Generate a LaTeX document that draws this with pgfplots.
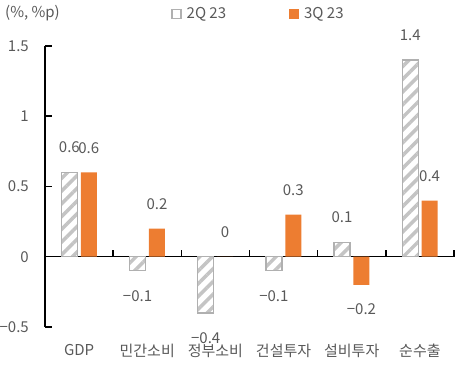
\documentclass[border=0pt]{standalone}
\usepackage{fontspec}
\setmainfont{Noto Sans CJK KR}
\usepackage{pgfplots}
\pgfplotsset{compat=1.18}
\usetikzlibrary{patterns.meta}
\definecolor{orng}{HTML}{ED7D31}
\definecolor{hatch}{HTML}{C4C4C4}
\definecolor{hatchedge}{HTML}{B0B0B0}
\definecolor{txt}{HTML}{595959}
\newcommand{\lblfont}{\fontsize{15pt}{18pt}\selectfont}
\begin{document}
\lblfont
\begin{tikzpicture}
\useasboundingbox (0,0) rectangle (455pt,380pt);
\node[anchor=west, text=txt, font=\lblfont] at (0pt,367pt) {(\%, \%p)};
\begin{axis}[
  at={(45pt,53pt)}, anchor=south west,
  scale only axis, width=409pt, height=281pt,
  xmin=-0.5, xmax=5.5, ymin=-0.5, ymax=1.5,
  axis x line=middle, axis y line=left,
  axis line style={-, black, line width=1.3pt},
  xtick style={black, line width=1.5pt, yshift=7pt},
  ytick style={black, line width=1.5pt},
  tick align=inside, major tick length=7pt,
  hide obscured x ticks=false, hide obscured y ticks=false,
  xtick={-0.5,0.5,1.5,2.5,3.5,4.5,5.5}, xticklabels={},
  extra x ticks={0,1,2,3,4,5},
  extra x tick labels={GDP,민간소비,정부소비,건설투자,설비투자,순수출},
  extra x tick style={major tick length=0pt, xticklabel style={yshift=-82pt}},
  ytick={-0.5,0,0.5,1,1.5},
  yticklabels={−0.5,0,0.5,1,1.5},
  yticklabel style={xshift=-11pt},
  tick label style={text=txt, font=\lblfont},
  ybar=3.4pt, bar width=16pt,
  nodes near coords,
  visualization depends on={value \thisrow{anc} \as \anc},
  every node near coord/.append style={text=txt, font=\lblfont, inner ysep=19pt, anchor=\anc},
  legend style={draw=none, fill=none, at={(0.522,1)}, anchor=center, yshift=32pt,
    legend columns=2, font=\lblfont, text=txt,
    /tikz/every odd column/.append style={column sep=3pt},
    /tikz/every even column/.append style={column sep=61pt}},
]
\addplot[draw=hatchedge, line width=1.4pt,
  pattern={Lines[angle=45,distance=9pt,line width=3.5pt]}, pattern color=hatch,
  point meta=explicit symbolic,
  legend image code/.code={\draw[draw=hatchedge, line width=1.3pt, fill=white] (0pt,-4.5pt) rectangle (9pt,4.5pt);}]
  table[meta=lab] {
x y lab anc
0 0.6 0.6 south
1 -0.1 −0.1 north
2 -0.4 −0.4 north
3 -0.1 −0.1 north
4 0.1 0.1 south
5 1.4 1.4 south
};
\addlegendentry{2Q 23}
\addplot[draw=none, fill=orng,
  point meta=explicit symbolic,
  legend image code/.code={\fill[orng] (0pt,-5pt) rectangle (10pt,5pt);}]
  table[meta=lab] {
x y lab anc
0 0.6 0.6 south
1 0.2 0.2 south
2 0 0 south
3 0.3 0.3 south
4 -0.2 −0.2 north
5 0.4 0.4 south
};
\addlegendentry{3Q 23}
\end{axis}
\end{tikzpicture}
\end{document}
